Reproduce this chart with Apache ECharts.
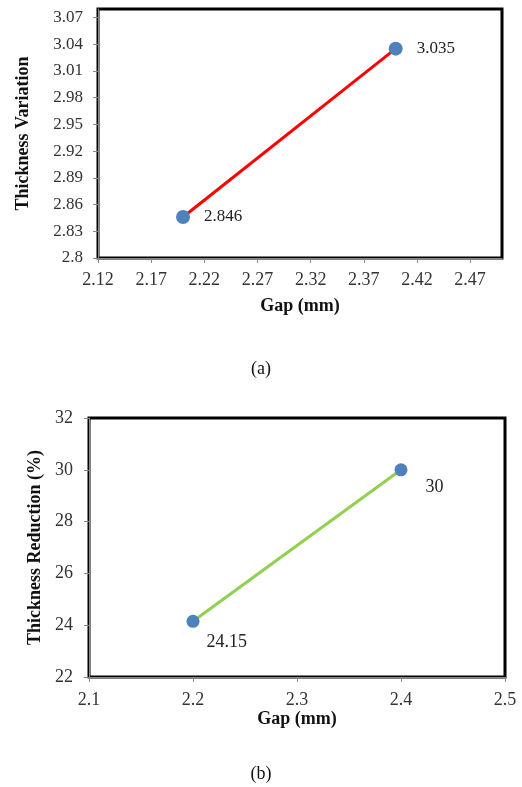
<!DOCTYPE html>
<html>
<head>
<meta charset="utf-8">
<script src="https://cdn.jsdelivr.net/npm/echarts@6/dist/echarts.min.js"></script>
<style>
html,body{margin:0;padding:0;background:#fff;}
#c{width:522px;height:787px;}
</style>
</head>
<body>
<div id="c"></div>
<script>
// Chart (a)
var gapA = [2.2, 2.4];
var thicknessVariation = [2.846, 3.035];
// Chart (b)
var gapB = [2.2, 2.4];
var thicknessReduction = [24.15, 30];

var FONT = '"Liberation Serif", "Times New Roman", serif';
var chart = echarts.init(document.getElementById('c'));

function pairs(xs, ys) { return xs.map(function (x, i) { return [x, ys[i]]; }); }

var axisCommon = {
  axisLine: { show: true, lineStyle: { color: '#888', width: 1 } },
  axisTick: { show: true, inside: false, length: 5, lineStyle: { color: '#888' } },
  splitLine: { show: false },
  axisLabel: { color: '#333', fontFamily: FONT, fontSize: 18, showMaxLabel: false },
  nameTextStyle: { color: '#111', fontFamily: FONT, fontSize: 18, fontWeight: 'bold' },
  nameLocation: 'middle'
};
function ax(o) { return echarts.util.merge(echarts.util.clone(axisCommon), o, true); }

var labelOffsetsB = [[2, 21], [13, 17]];

chart.setOption({
  animation: false,
  backgroundColor: '#fff',
  title: [
    { text: '(a)', left: 'center', top: 355, textStyle: { fontFamily: FONT, fontSize: 18, fontWeight: 'normal', color: '#111' } },
    { text: '(b)', left: 'center', top: 760, textStyle: { fontFamily: FONT, fontSize: 18, fontWeight: 'normal', color: '#111' } }
  ],
  grid: [
    { left: 98, top: 9, width: 404, height: 249, show: true, borderColor: '#000', borderWidth: 3, backgroundColor: 'transparent' },
    { left: 89, top: 418, width: 416, height: 259, show: true, borderColor: '#000', borderWidth: 3, backgroundColor: 'transparent' }
  ],
  xAxis: [
    ax({ gridIndex: 0, type: 'value', min: 2.12, max: 2.5, interval: 0.05, name: 'Gap (mm)', nameGap: 39,
         axisLabel: { margin: 13, showMinLabel: true, formatter: function (v) { return v.toFixed(2); } } }),
    ax({ gridIndex: 1, type: 'value', min: 2.1, max: 2.5, interval: 0.1, name: 'Gap (mm)', nameGap: 32,
         axisLabel: { margin: 14, showMaxLabel: true, formatter: function (v) { return v.toFixed(1); } } })
  ],
  yAxis: [
    ax({ gridIndex: 0, type: 'value', min: 2.8, max: 3.0795, interval: 0.03, name: 'Thickness Variation', nameGap: 66,
         axisLabel: { margin: 15, fontSize: 17, formatter: function (v) { var s = (Math.round(v * 100) / 100).toString(); return s; } } }),
    ax({ gridIndex: 1, type: 'value', min: 22, max: 32, interval: 2, name: 'Thickness Reduction (%)', nameGap: 43,
         axisLabel: { margin: 16, showMaxLabel: true } })
  ],
  series: [
    {
      type: 'line', xAxisIndex: 0, yAxisIndex: 0,
      data: pairs(gapA, thicknessVariation),
      lineStyle: { color: '#ff0000', width: 3 },
      itemStyle: { color: '#4f81bd' },
      symbol: 'circle', symbolSize: 14,
      label: { show: true, position: 'right', distance: 14, color: '#222', fontFamily: FONT, fontSize: 17,
               formatter: function (p) { return p.value[1].toFixed(3); } }
    },
    {
      type: 'line', xAxisIndex: 1, yAxisIndex: 1,
      data: pairs(gapB, thicknessReduction).map(function (d, i) {
        return { value: d, label: { offset: labelOffsetsB[i] } };
      }),
      lineStyle: { color: '#92d050', width: 3 },
      itemStyle: { color: '#4f81bd' },
      symbol: 'circle', symbolSize: 13,
      label: { show: true, position: 'right', distance: 5, color: '#222', fontFamily: FONT, fontSize: 18,
               formatter: function (p) { return String(p.value[1]); } }
    }
  ]
});
</script>
</body>
</html>
